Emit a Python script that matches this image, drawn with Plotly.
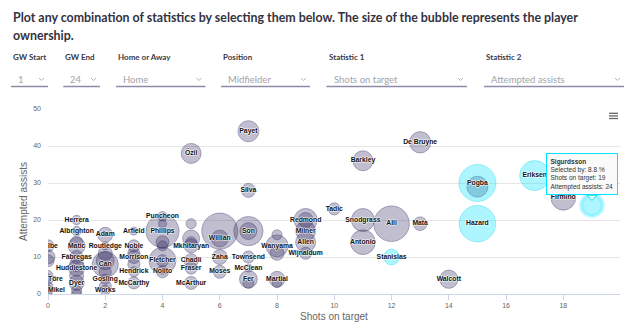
import math
import plotly.graph_objects as go

# ---------------- data ----------------
gray_labels = ["Payet", "Özil", "Silva", "Barkley", "De Bruyne", "Tadic", "Snodgrass", "Antonio",
               "Alli", "Mata", "Walcott", "Firmino", "", "Son", "", "Townsend", "McClean", "Fer", "",
               "Martial", "", "Wanyama", "", "", "Redmond", "", "Milner", "Allen", "Wijnaldum",
               "", "Willian", "Zaha", "Moses", "", "", "", "Mkhitaryan", "Chadli", "Fraser", "McArthur",
               "Puncheon", "", "Phillips", "", "", "Fletcher", "", "Nolito",
               "Arfield", "Noble", "", "Morrison", "", "Hendrick", "McCarthy",
               "Adam", "Routledge", "", "", "Can", "", "Gosling", "", "Works",
               "Herrera", "Albrighton", "", "Matic", "Fàbregas", "", "Huddlestone", "", "Dyer", "", "",
               "Ibe", "", "", "", "Töre", "", "Mikel", ""]
gray_shots = [7, 5, 7, 11, 13, 10, 11, 11,
              12, 13, 14, 18, 15, 7, 7, 7, 7, 7, 7,
              8, 8, 8, 8, 8, 9, 9, 9, 9, 9,
              6, 6, 6, 6, 5, 5, 5, 5, 5, 5, 5,
              4, 4, 4, 4, 4, 4, 4, 4,
              3, 3, 3, 3, 3, 3, 3,
              2, 2, 2, 2, 2, 2, 2, 2, 2,
              1, 1, 1, 1, 1, 1, 1, 1, 1, 1, 1,
              0, 0, 0, 0, 0, 0, 0, 0]
gray_assists = [44, 38, 28, 36, 41, 23, 20, 14,
                19, 19, 4, 26, 29, 17, 17, 10, 7, 4, 3,
                4, 3, 13, 16, 11, 20, 20, 17, 14, 11,
                17, 15, 10, 6, 19, 15, 14, 13, 9, 7, 3,
                21, 19, 17, 14, 13, 9, 9, 6,
                17, 13, 11, 10, 8, 6, 3,
                16, 13, 11, 9, 8, 6, 4, 2, 1,
                20, 17, 14, 13, 10, 8, 7, 5, 3, 1, 0,
                13, 10, 9, 5, 4, 2, 1, 0]
gray_ownership = [8.1, 6.9, 1.8, 6.9, 8.5, 0.9, 10.8, 13.3,
                  36.0, 1.6, 5.1, 13.3, 8.1, 21.6, 3.9, 0.9, 0.1, 4.6, 0.5,
                  2.9, 0.2, 9.4, 0.3, 1.8, 10.8, 2.4, 6.9, 6.9, 0.9,
                  37.3, 3.7, 2.4, 1.3, 0.3, 3.9, 0.5, 1.8, 1.8, 0.9, 1.3,
                  0.2, 0.1, 29.8, 1.3, 0.3, 17.2, 0.9, 0.9,
                  0.1, 0.9, 0.9, 1.3, 0.9, 0.3, 0.9,
                  2.4, 0.1, 1.8, 4.8, 15.5, 0.9, 0.3, 0.9, 0.3,
                  0.2, 0.2, 0.9, 3.9, 1.3, 1.8, 3.1, 1.8, 2.4, 0.3, 0.3,
                  0.9, 1.8, 0.9, 0.3, 0.3, 0.3, 0.3, 0.1]

cyan_names = ["Pogba", "Hazard", "Eriksen", "Sigurdsson", "Stanislas"]
cyan_labels = ["Pogba", "Hazard", "Eriksen", "", "Stanislas"]   # Sigurdsson's label is hidden by overlap
cyan_shots = [15, 15, 17, 19, 12]
cyan_assists = [30, 19, 32, 24, 10]
cyan_ownership = [40.0, 38.6, 23.1, 8.8, 2.9]

hovered = "Sigurdsson"

title_lines = ["Plot any combination of statistics by selecting them below. The size of the bubble represents the player",
               "ownership."]
control_labels = ["GW Start", "GW End", "Home or Away", "Position", "Statistic 1", "Statistic 2"]
control_values = ["1", "24", "Home", "Midfielder", "Shots on target", "Attempted assists"]

x_title = "Shots on target"
y_title = "Attempted assists"

# ---------------- layout geometry ----------------
W, H = 640, 334
ML, MR, MT, MB = 48, 20, 109, 40
PW = W - ML - MR
PH = H - MT - MB
XMAX = 19.98

def px(x):
    return (x - ML) / PW

def py(y):
    return (H - MB - y) / PH

control_left = [11, 63.3, 116, 221, 326.5, 484]
control_right = [48, 100, 205.5, 310, 467, 624]

# bubble sizes (Highcharts-like: sizeBy area, min 8px, max 20% of plot height)
all_own = gray_ownership + cyan_ownership
zmin, zmax = min(all_own), max(all_own)
MIN_D, MAX_D = 8, 0.2 * PH

def diam(z):
    return MIN_D + math.sqrt((z - zmin) / (zmax - zmin)) * (MAX_D - MIN_D)

gray_d = [diam(z) for z in gray_ownership]
cyan_d = [diam(z) for z in cyan_ownership]

fig = go.Figure()

fig.add_trace(go.Scatter(
    x=gray_shots, y=gray_assists, mode="markers",
    marker=dict(size=gray_d, sizemode="diameter",
                color="rgba(48,40,96,0.42)",
                line=dict(color="rgba(48,40,96,0.55)", width=1)),
    hoverinfo="skip", showlegend=False, cliponaxis=True))

fig.add_trace(go.Scatter(
    x=cyan_shots, y=cyan_assists, mode="markers",
    marker=dict(size=cyan_d, sizemode="diameter",
                color="rgba(0,228,255,0.45)",
                line=dict(color=["rgba(0,228,255,0.35)" if n == hovered else "rgba(0,210,240,0.5)" for n in cyan_names],
                          width=[4 if n == hovered else 1 for n in cyan_names])),
    hoverinfo="skip", showlegend=False, cliponaxis=True))

all_labels = gray_labels + cyan_labels
all_x = gray_shots + cyan_shots
all_y = gray_assists + cyan_assists
fig.add_trace(go.Scatter(
    x=all_x, y=all_y, mode="text", text=all_labels,
    textposition=["middle right" if xv == 0 else "middle center" for xv in all_x],
    textfont=dict(family="Liberation Sans, Arial", size=6.8, color="#111", weight="bold",
                  shadow="1px 0px 0px rgba(255,255,255,0.7), -1px 0px 0px rgba(255,255,255,0.7), 0px 1px 0px rgba(255,255,255,0.7), 0px -1px 0px rgba(255,255,255,0.7)"),
    hoverinfo="skip", showlegend=False, cliponaxis=True))

annotations = []
shapes = []

# title
for i, line in enumerate(title_lines):
    annotations.append(dict(xref="paper", yref="paper", x=px(11), y=py(17 + 18 * i),
                            xanchor="left", yanchor="middle", showarrow=False, text=line,
                            font=dict(family="Lato", size=12.4, color="#34323f", weight="bold")))

# controls
for lab, val, l, r in zip(control_labels, control_values, control_left, control_right):
    annotations.append(dict(xref="paper", yref="paper", x=px(l), y=py(57.5),
                            xanchor="left", yanchor="middle", showarrow=False, text=lab,
                            font=dict(family="Lato", size=8, color="#3a3847", weight="bold")))
    annotations.append(dict(xref="paper", yref="paper", x=px(l + 5), y=py(79),
                            xanchor="left", yanchor="middle", showarrow=False, text=val,
                            font=dict(family="Lato", size=9.5, color="#a3a3ab")))
    shapes.append(dict(type="line", xref="paper", yref="paper",
                       x0=px(l), x1=px(r), y0=py(86.5), y1=py(86.5),
                       line=dict(color="#8e8aa8", width=1.3)))
    cx = r - 6.5
    shapes.append(dict(type="path", xref="paper", yref="paper",
                       path=f"M {px(cx-2.5)},{py(78)} L {px(cx)},{py(80.5)} L {px(cx+2.5)},{py(78)}",
                       line=dict(color="#b4b4bc", width=1)))

# export menu icon
for yy in [113.3, 115.9, 118.5]:
    shapes.append(dict(type="line", xref="paper", yref="paper",
                       x0=px(609), x1=px(618), y0=py(yy), y1=py(yy),
                       line=dict(color="#666666", width=1.3)))

# tooltip for hovered point
hi = cyan_names.index(hovered)
tip = (f"<b>{hovered}</b><br>Selected by: {cyan_ownership[hi]} %<br>"
       f"Shots on target: {cyan_shots[hi]}<br>Attempted assists: {cyan_assists[hi]}")
annotations.append(dict(xref="x", yref="y", x=cyan_shots[hi], y=cyan_assists[hi],
                        xanchor="center", yanchor="bottom", xshift=-10, yshift=10,
                        showarrow=False, text=tip, align="left",
                        font=dict(family="Liberation Sans, Arial", size=6.5, color="#333333"),
                        bgcolor="rgba(250,250,250,0.92)", bordercolor="rgb(0,228,255)",
                        borderwidth=1, borderpad=3.5))
tx = ML + cyan_shots[hi] * PW / XMAX
shapes.append(dict(type="path", xref="paper", yref="paper",
                   path=f"M {px(tx-5)},{py(195.3)} L {px(tx)},{py(200.5)} L {px(tx+5)},{py(195.3)} Z",
                   fillcolor="rgba(250,250,250,0.95)", line=dict(color="rgb(0,228,255)", width=1),
                   layer="above"))

fig.update_layout(
    width=W, height=H,
    margin=dict(l=ML, r=MR, t=MT, b=MB, pad=0),
    paper_bgcolor="white", plot_bgcolor="white",
    showlegend=False,
    annotations=annotations, shapes=shapes,
    xaxis=dict(range=[0, XMAX], tick0=0, dtick=2, showgrid=False, zeroline=False,
               showline=True, linecolor="#ccd6eb", linewidth=1,
               ticks="outside", ticklen=5, tickcolor="#ccd6eb", tickwidth=1,
               tickfont=dict(family="Liberation Sans, Arial", size=7, color="#666666"),
               title=dict(text=x_title, standoff=4,
                          font=dict(family="Liberation Sans, Arial", size=10, color="#666666"))),
    yaxis=dict(range=[0, 50], tick0=0, dtick=10, showgrid=True, gridcolor="#e6e6e6", gridwidth=1,
               zeroline=False, showline=False, ticks="", ticklabelstandoff=6,
               tickfont=dict(family="Liberation Sans, Arial", size=7, color="#666666"),
               title=dict(text=y_title, standoff=3,
                          font=dict(family="Liberation Sans, Arial", size=10, color="#666666"))),
)

fig.write_html("out.html", config={"displayModeBar": False})
